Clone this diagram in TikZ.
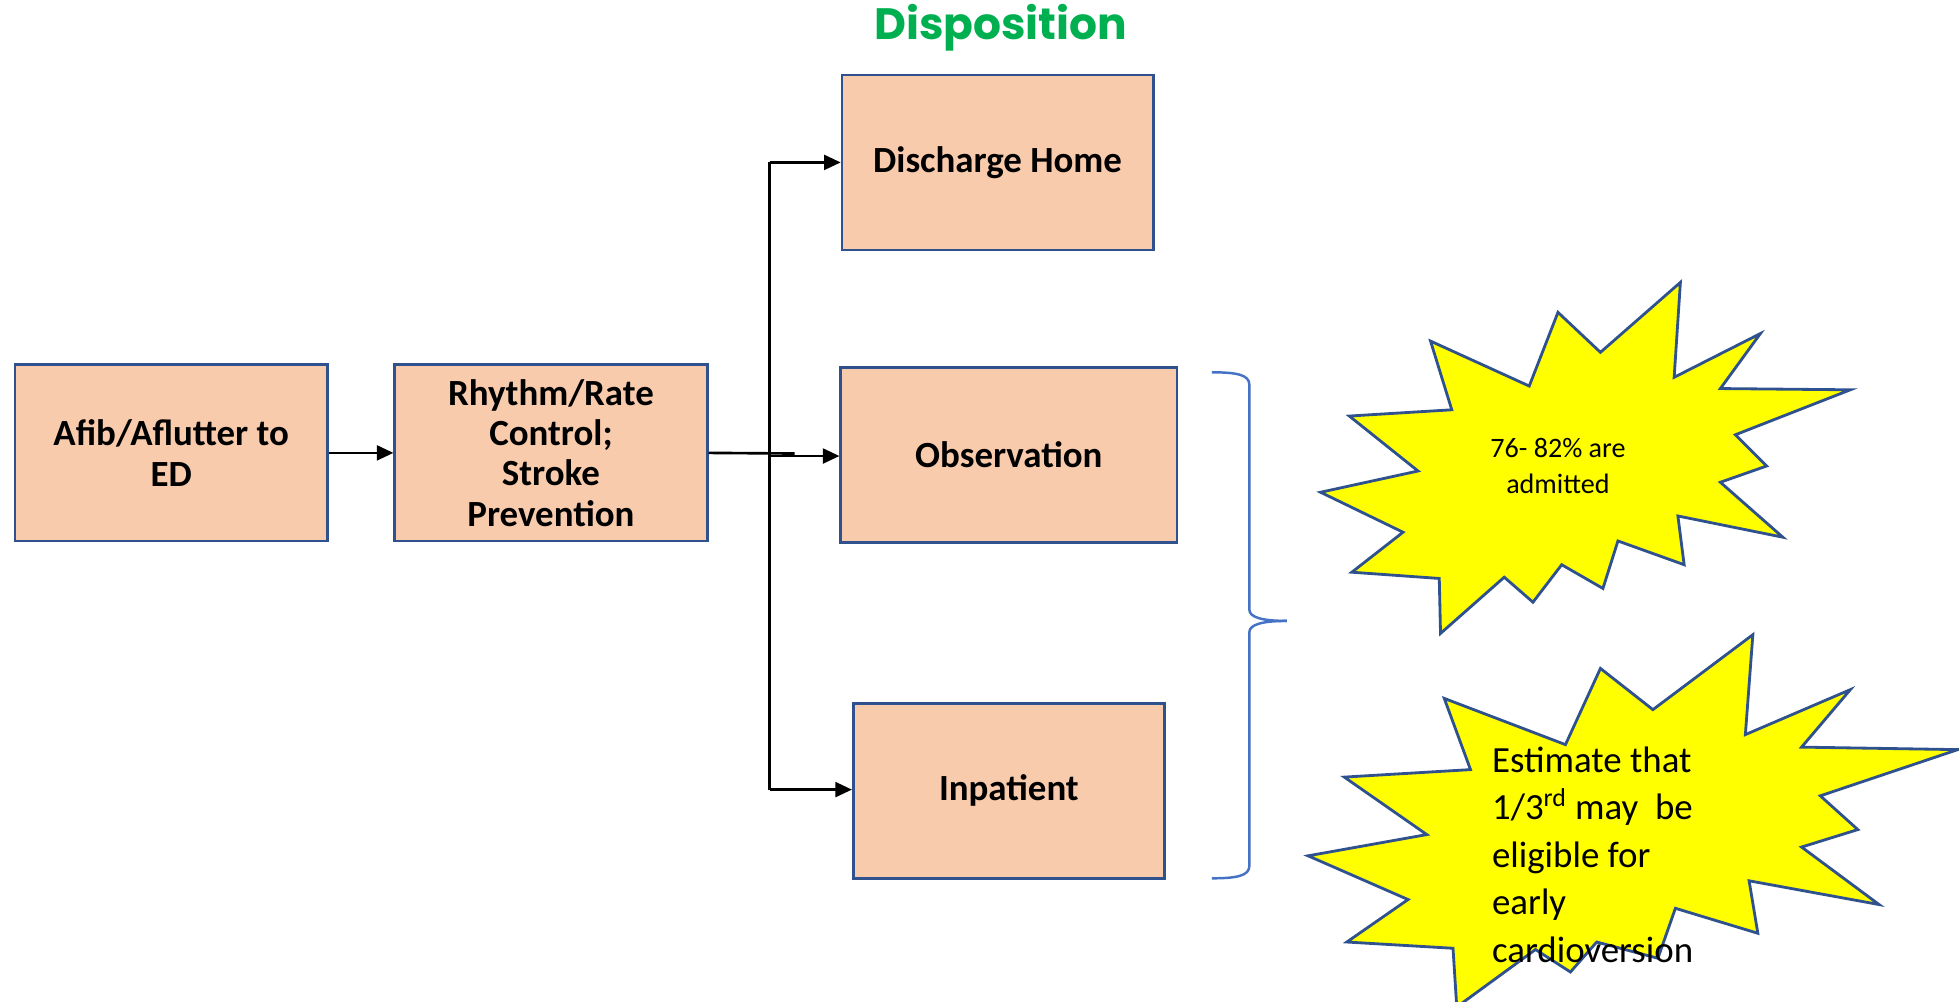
\documentclass[tikz,border=0pt]{standalone}
\usepackage{fontspec}
\setmainfont{Carlito}
\newfontfamily\titlefont{Poppins}
\usetikzlibrary{arrows.meta}
\definecolor{boxfill}{HTML}{F8CBAD}
\definecolor{boxline}{HTML}{2F528F}
\definecolor{bracecol}{HTML}{4472C4}
\definecolor{titlegreen}{HTML}{00B050}
\definecolor{staryellow}{HTML}{FFFF00}
\tikzset{
  flowbox/.style={draw=boxline, fill=boxfill, line width=1.5pt, inner sep=0pt, align=center,
    font=\fontsize{21}{23}\selectfont\bfseries},
  conn/.style={line width=1.5pt, black},
  arr/.style={conn, -{Triangle[length=9.5pt,width=8.5pt]}},
  starshape/.style={draw=boxline, fill=staryellow, line width=1.6pt, line join=miter},
  bracestyle/.style={draw=bracecol, line width=1.4pt},
  startext/.style={inner sep=0pt, font=\fontsize{16}{21}\selectfont, align=center},
}
\begin{document}
\begin{tikzpicture}[x=0.025cm,y=-0.025cm]
\useasboundingbox (0,0) rectangle (1568,802);
\clip (0,0) rectangle (1568,802);

% title
\node[font=\titlefont\bfseries\fontsize{25}{28}\selectfont, text=titlegreen] (title) at (801,22) {Disposition};

% boxes
\node[flowbox, minimum width=6.25cm, minimum height=3.525cm] (afib) at (137,362.5) {Afib/Aflutter to\\ED};
\node[flowbox, minimum width=6.25cm, minimum height=3.525cm] (rhythm) at (441,362.5) {Rhythm/Rate\\Control;\\Stroke\\Prevention};
\node[flowbox, minimum width=6.225cm, minimum height=3.5cm] (home) at (798.5,130) {Discharge Home};
\node[flowbox, minimum width=6.725cm, minimum height=3.5cm] (obs) at (807.5,364) {Observation};
\node[flowbox, minimum width=6.225cm, minimum height=3.5cm] (inpat) at (807.5,633) {Inpatient};

% connectors
\coordinate (jtop) at (616,130);
\coordinate (jmid) at (616,365);
\coordinate (jbot) at (616,632);
\coordinate (jend) at (636,363);
\draw[arr] (afib.east) -- (rhythm.west);
\draw[conn] (rhythm.east) -- (jend);
\draw[conn] (jtop) -- (jbot);
\draw[arr] (jtop) -- (home.west);
\draw[arr] (jmid) -- (obs.west |- jmid);
\draw[arr] (jbot) -- (inpat.west |- jbot);

% brace
\draw[bracestyle] (970,298) .. controls (990,298) and (1000,300) .. (1000,308)
  -- (1000,488) .. controls (1000,494) and (1010,497) .. (1030,497);
\draw[bracestyle] (1030,497) .. controls (1010,497) and (1000,500) .. (1000,506)
  -- (1000,693) .. controls (1000,701) and (990,703) .. (970,703);

% star 1
\draw[starshape] (1345,226) -- (1340,302) -- (1409,267) -- (1377,311) -- (1481,312)
  -- (1389,348) -- (1414,373) -- (1377,386) -- (1427,430) -- (1343,413) -- (1348,452)
  -- (1295,433) -- (1283,471) -- (1250,452) -- (1227,482) -- (1204,462) -- (1153,507)
  -- (1152,463) -- (1082,458) -- (1123,426) -- (1057,394) -- (1135,377) -- (1080,333)
  -- (1162,328) -- (1145,273) -- (1224,309) -- (1247,250) -- (1281,282) -- cycle;
\node[startext] (admit) at (1247,373) {76- 82\% are\\admitted};

% star 2
\draw[starshape] (1403,508) -- (1397,588) -- (1481,552) -- (1442,598) -- (1567,600)
  -- (1457,637) -- (1487,664) -- (1442,678) -- (1504,724) -- (1400,705) -- (1407,747)
  -- (1341,727) -- (1327,767) -- (1278,754) -- (1257,778) -- (1229,760) -- (1166,806)
  -- (1163,759) -- (1078,754) -- (1127,720) -- (1047,685) -- (1142,668) -- (1076,622)
  -- (1177,616) -- (1156,559) -- (1253,596) -- (1281,535) -- (1323,568) -- cycle;
\node[inner sep=0pt, anchor=west, align=left, font=\fontsize{21}{27}\selectfont] (cardio) at (1194,684)
  {Estimate that\\1/3\textsuperscript{rd} may\ \ be\\eligible for\\early\\cardioversion};
\end{tikzpicture}
\end{document}
